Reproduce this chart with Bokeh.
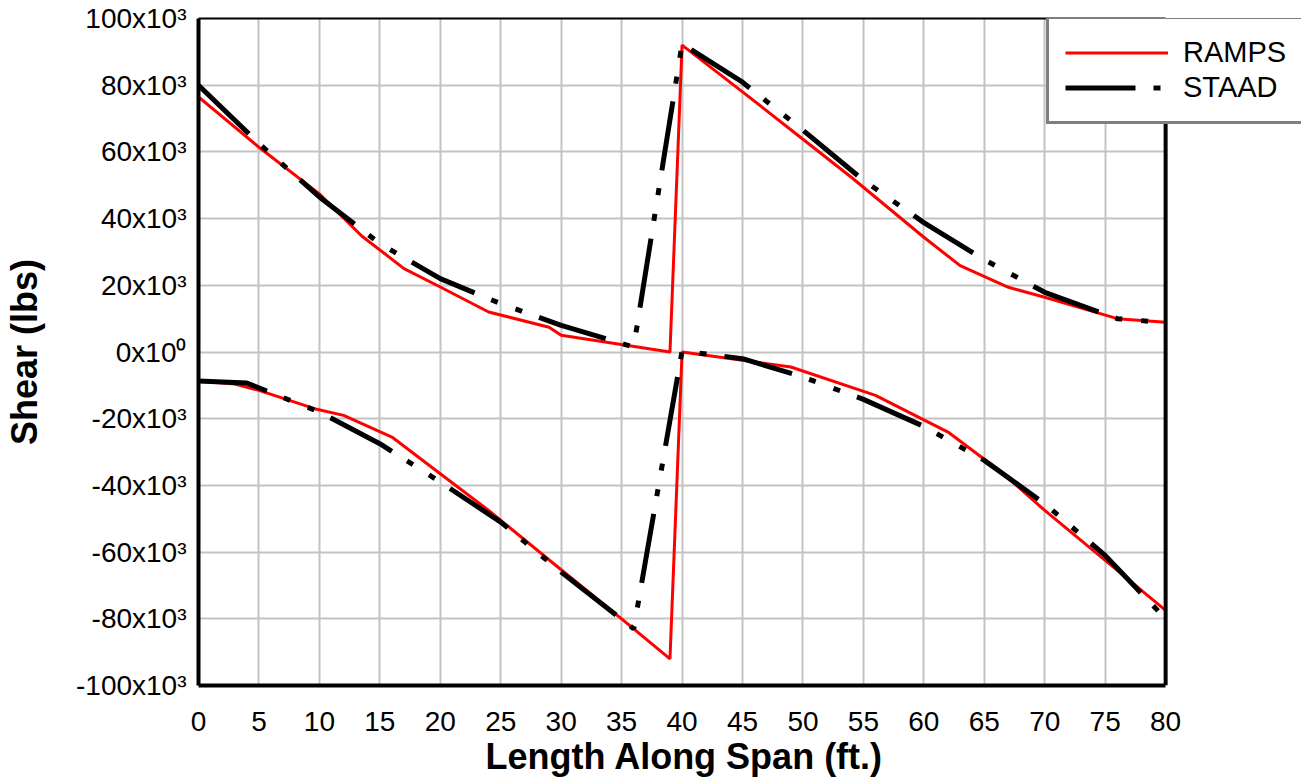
from bokeh.plotting import figure
from bokeh.models import (Range1d, FixedTicker, CustomJSTickFormatter, Legend, LegendItem,
                          LinearAxis, BoxAnnotation, Span, Title)
from bokeh.embed import file_html
from bokeh.resources import INLINE

# ---- data (shear in lbs, x in ft) ----
ramps_max_x = [0, 5, 10, 13.5, 17, 20, 24, 29, 30, 39, 40, 45, 50, 54, 60, 63, 67, 70, 76, 80]
ramps_max_y = [76500, 61400, 47400, 34800, 25000, 19500, 12000, 7400, 5000, 0, 92000, 78000,
               63800, 52400, 34400, 25900, 19400, 16400, 10000, 8900]

ramps_min_x = [0, 3, 5, 9.6, 12, 16, 20, 24, 30, 35, 39, 40, 49, 56, 62, 66.4, 70, 80]
ramps_min_y = [-8700, -9600, -11500, -17000, -19000, -25500, -36500, -47500, -65300, -80000,
               -92000, 0, -4500, -13000, -24000, -36000, -47500, -77500]

staad_max_x = [0, 5, 10, 15, 20, 25, 30, 36, 40, 45, 50, 55, 60, 65, 70, 76, 80]
staad_max_y = [80000, 62500, 46500, 32500, 22000, 14500, 8000, 1500, 92400, 80900, 66500,
               51500, 38800, 27700, 17900, 10000, 8800]

staad_min_x = [0, 4, 10, 15, 20, 25, 30, 36, 40, 45, 50, 55, 60, 65, 70, 75, 80]
staad_min_y = [-8700, -9300, -18000, -27500, -39000, -51000, -66000, -83000, 300, -2000,
               -7500, -14200, -22300, -32500, -45500, -61000, -80000]

x_ticks = list(range(0, 81, 5))
y_ticks = list(range(-100000, 100001, 20000))
X_MIN, X_MAX = 0, 80
Y_MIN, Y_MAX = -100000, 100000

FONT = "Liberation Sans"

# frame spans from the plot area's left edge to the window's right edge so the
# legend (which sticks out past the plot area) is not clipped
PLOT_LEFT, PLOT_RIGHT, WIN_W = 197, 1165, 1301
x_far = X_MAX + (X_MAX - X_MIN) * (WIN_W - PLOT_RIGHT) / (PLOT_RIGHT - PLOT_LEFT)

p = figure(width=WIN_W, height=778, output_backend="svg", toolbar_location=None,
           x_range=Range1d(X_MIN, x_far), y_range=Range1d(Y_MIN, Y_MAX),
           min_border_left=PLOT_LEFT, min_border_right=0, min_border_top=18,
           min_border_bottom=93, background_fill_color="white",
           border_fill_color="white")

p.outline_line_color = None

# grid
for g, t in ((p.xgrid, x_ticks), (p.ygrid, y_ticks)):
    g.ticker = FixedTicker(ticks=t)
    g.grid_line_color = "#c3c3c3"
    g.grid_line_width = 2

# axes
p.xaxis.ticker = FixedTicker(ticks=x_ticks)
p.xaxis.bounds = (X_MIN, X_MAX)
p.yaxis.ticker = FixedTicker(ticks=y_ticks)
p.yaxis.formatter = CustomJSTickFormatter(code="""
    if (tick == 0) { return "0x10\u2070"; }
    return (tick/1000).toFixed(0) + "x10\u00b3";
""")
for ax in (p.xaxis[0], p.yaxis[0]):
    ax.major_tick_in = 0
    ax.major_tick_out = 0
    ax.minor_tick_in = 0
    ax.minor_tick_out = 0
    ax.axis_line_color = "black"
    ax.axis_line_width = 4
    ax.major_label_text_font = FONT
    ax.major_label_text_font_size = "28px"
    ax.major_label_text_color = "black"
    ax.axis_label_text_font = FONT
    ax.axis_label_text_font_size = "36px"
    ax.axis_label_text_font_style = "bold"
    ax.axis_label_text_color = "black"

p.yaxis.axis_label = "Shear (lbs)"
p.xaxis.major_label_standoff = 26
p.yaxis.major_label_standoff = 12
p.yaxis.axis_label_standoff = 28

# x-axis title, centred under the plot area (not under the whole frame)
xtitle = Title(text="Length Along Span (ft.)", align="left", offset=287,
               text_font=FONT, text_font_size="36px", text_font_style="bold",
               text_color="black", standoff=0)
p.add_layout(xtitle, "below")

# top border as a bounded axis without labels
tax = LinearAxis(ticker=FixedTicker(ticks=[]), major_label_text_font_size="0px",
                 major_tick_in=0, major_tick_out=0, minor_tick_in=0, minor_tick_out=0,
                 axis_line_color="black", axis_line_width=2, bounds=(X_MIN, X_MAX))
p.add_layout(tax, "above")

# lines
r1 = p.line(ramps_max_x, ramps_max_y, line_color="#ff0000", line_width=3)
r2 = p.line(ramps_min_x, ramps_min_y, line_color="#ff0000", line_width=3)
s1 = p.line(staad_max_x, staad_max_y, line_color="black", line_width=5,
            line_dash="70 18 7 19 7 18")
s2 = p.line(staad_min_x, staad_min_y, line_color="black", line_width=5,
            line_dash="70 18 7 19 7 18")

# blank area right of the plot area, and the right border
p.add_layout(BoxAnnotation(left=X_MAX, fill_color="white", fill_alpha=1.0,
                           line_color=None))
p.add_layout(Span(location=X_MAX, dimension="height", line_color="black", line_width=4))

legend = Legend(items=[LegendItem(label="RAMPS", renderers=[r1]),
                       LegendItem(label="STAAD", renderers=[s1])],
                location=(848, 561), orientation="vertical",
                label_text_font=FONT, label_text_font_size="29px",
                label_text_color="black",
                glyph_width=103, glyph_height=35, label_height=35,
                label_standoff=15, spacing=0, padding=16, margin=0,
                border_line_color="black", border_line_width=3,
                background_fill_color="white", background_fill_alpha=1.0)
p.add_layout(legend, "center")

open("out.html", "w").write(file_html(p, INLINE))
